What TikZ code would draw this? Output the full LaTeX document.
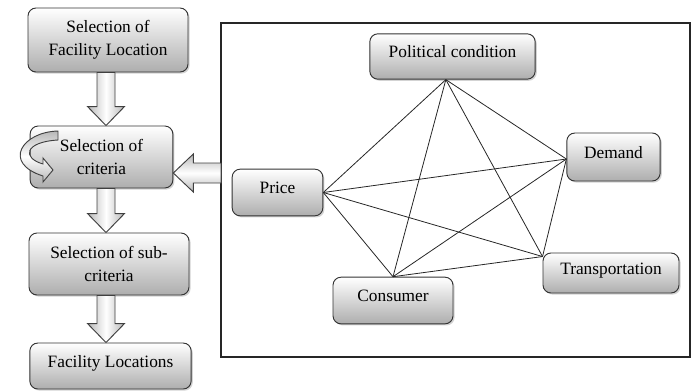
\documentclass[tikz,border=0pt]{standalone}
\usepackage{fontspec}
\setmainfont{Liberation Serif}
\usetikzlibrary{calc,shadows}

\tikzset{
  box/.style={draw=black!80, line width=0.7pt, rounded corners=6pt,
    top color=white, bottom color=black!32,
    drop shadow={opacity=0.35, shadow xshift=1.2pt, shadow yshift=-1.2pt},
    align=center, font=\fontsize{13}{17.5}\selectfont, inner sep=2pt},
  crit/.style={box, text depth=7pt},
  blockarrow/.style={draw=black!75, line width=0.7pt,
    left color=black!28, right color=black!28, middle color=white},
  hblockarrow/.style={draw=black!75, line width=0.7pt,
    top color=black!28, bottom color=black!28, middle color=white},
  link/.style={draw=black!85, line width=0.6pt}
}

% vertical block arrow between two boxes of the left column
\newcommand{\dnblock}[2]{%
  \path[blockarrow] ($(106,0 |- #1.south)+(-9,0)$) -- ($(106,0 |- #1.south)+(9,0)$)
    -- ($(106,0 |- #2.north)+(9,-19)$) -- ($(106,0 |- #2.north)+(18.5,-19)$)
    -- (106,0 |- #2.north) -- ($(106,0 |- #2.north)+(-18.5,-19)$)
    -- ($(106,0 |- #2.north)+(-9,-19)$) -- cycle;}

\begin{document}
\begin{tikzpicture}[x=0.75pt, y=-0.75pt]
  \useasboundingbox (0,0) rectangle (695,390);

  % left column
  \node (sel) [box, minimum width=120pt, minimum height=48pt] at (108,40)
    {Selection of\\Facility Location};
  \node (crit) [box, minimum width=107pt, minimum height=46.5pt] at (101.5,157)
    {Selection of\\criteria};
  \node (sub) [box, minimum width=120pt, minimum height=46.5pt] at (109,264)
    {Selection of sub-\\criteria};
  \node (loc) [crit, minimum width=121pt, minimum height=34.5pt] at (110.5,366)
    {Facility Locations};

  \dnblock{sel}{crit}
  \dnblock{crit}{sub}
  \dnblock{sub}{loc}

  % loop on the criteria box
  \path[hblockarrow] (58,131) .. controls (22,132) and (2,163) .. (43,176)
    -- (43,182) -- (53,170) -- (43,158) -- (43,164)
    .. controls (22,158) and (24,142) .. (58,140) -- cycle;

  % criteria frame
  \node (frame) [draw=black!85, line width=0.9pt, inner sep=0pt, outer sep=0pt,
    minimum width=351.75pt, minimum height=250.5pt] at (455.5,190) {};

  \coordinate (ls) at (frame.west |- 0,173);
  \coordinate (lt) at (crit.east |- 0,173);
  \path[hblockarrow] ($(ls)+(0,-10)$) -- ($(lt)+(20,-10)$) -- ($(lt)+(20,-19)$)
    -- (lt) -- ($(lt)+(20,19)$) -- ($(lt)+(20,10)$) -- ($(ls)+(0,10)$) -- cycle;

  \node (pol) [crit, minimum width=124pt, minimum height=34pt] at (452.5,56.5)
    {Political condition};
  \node (dem) [crit, minimum width=70pt, minimum height=36pt] at (613.5,157)
    {Demand};
  \node (price) [crit, minimum width=68pt, minimum height=35pt] at (277.5,192.5)
    {Price};
  \node (cons) [crit, minimum width=90pt, minimum height=35pt] at (393,300.5)
    {Consumer};
  \node (trans) [crit, minimum width=102pt, minimum height=30pt] at (611,273)
    {Transportation};

  \coordinate (polpt) at ([xshift=-5pt]pol.south);
  \coordinate (dempt) at ([yshift=-1.5pt]dem.west);
  \coordinate (pricept) at (price.east);
  \coordinate (conspt) at (cons.north);
  \coordinate (transpt) at ([yshift=-3pt]trans.north west);

  \foreach \a/\b in {pricept/polpt, pricept/dempt, pricept/transpt, pricept/conspt,
                     polpt/conspt, polpt/transpt, polpt/dempt,
                     dempt/conspt, dempt/transpt, conspt/transpt}
    \draw[link] (\a) -- (\b);
\end{tikzpicture}
\end{document}
